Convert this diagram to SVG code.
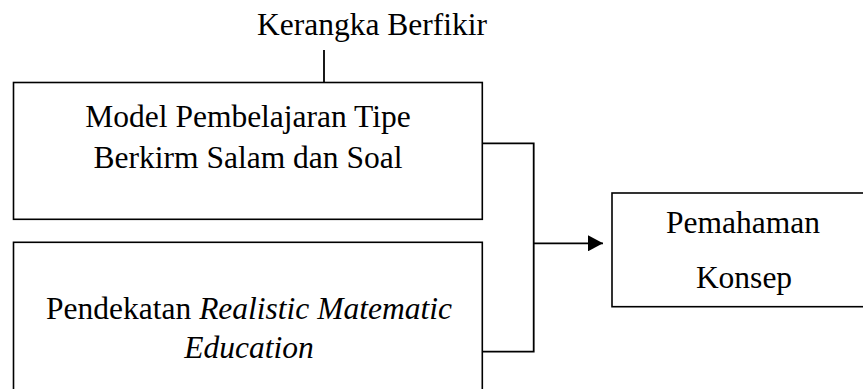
<svg xmlns="http://www.w3.org/2000/svg" width="863" height="389" viewBox="0 0 863 389">
<style>
.box{fill:#fff;stroke:#000;stroke-width:1.6}
.t{font-family:"Liberation Serif","Times New Roman",serif;font-size:31.5px;fill:#000;text-anchor:middle}
.i{font-style:italic}
.c{fill:none;stroke:#000;stroke-width:1.8}
</style>
<defs>
<marker id="ah" markerWidth="16" markerHeight="16" refX="15" refY="8" orient="auto" markerUnits="userSpaceOnUse">
<path d="M0,0 L15,8 L0,16 Z" fill="#000"/>
</marker>
</defs>
<rect width="863" height="389" fill="#fff"/>
<g id="title">
<text class="t" x="372" y="35">Kerangka Berfikir</text>
</g>
<g id="connectors">
<line class="c" x1="324" y1="50" x2="324" y2="82.5"/>
<polyline class="c" points="482.3,143.3 533.7,143.3 533.7,351.7 482.3,351.7"/>
<line class="c" x1="533.7" y1="243.3" x2="603" y2="243.3" marker-end="url(#ah)"/>
</g>
<g id="model">
<rect class="box" x="13.5" y="82.5" width="468.8" height="136.8"/>
<text class="t" x="248" y="126.7">Model Pembelajaran Tipe</text>
<text class="t" x="248" y="167.7">Berkirm Salam dan Soal</text>
</g>
<g id="pendekatan">
<rect class="box" x="13.5" y="242.3" width="468.8" height="160"/>
<text class="t" x="249" y="319">Pendekatan <tspan class="i">Realistic Matematic</tspan></text>
<text class="t i" x="249" y="357.5">Education</text>
</g>
<g id="pemahaman">
<rect class="box" x="612" y="193" width="270" height="113.7"/>
<text class="t" x="743" y="233">Pemahaman</text>
<text class="t" x="744" y="287.7">Konsep</text>
</g>
</svg>
